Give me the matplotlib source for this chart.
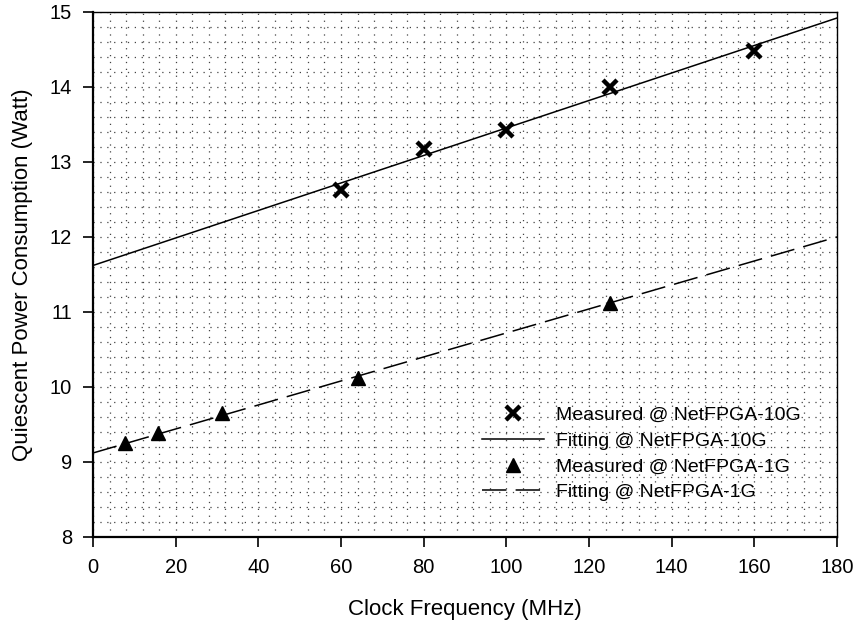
import numpy as np
import matplotlib
matplotlib.use('Agg')
import matplotlib.pyplot as plt
from matplotlib.ticker import MultipleLocator

plt.rcParams['font.family'] = ['Liberation Sans', 'DejaVu Sans']

# measured points
freq_10g = [60, 80, 100, 125, 160]
power_10g = [12.63, 13.17, 13.42, 14.00, 14.48]
freq_1g = [7.8, 15.6, 31.25, 64, 125]
power_1g = [9.25, 9.38, 9.65, 10.12, 11.12]

# linear fits (intercept, slope)
fit_10g = (11.62, 0.01833)
fit_1g = (9.12, 0.0160)
fit_x = [0, 180]

fig = plt.figure(figsize=(8.59, 6.29), dpi=100)
ax = fig.add_axes([0.1083, 0.1463, 0.8661, 0.8347])

xs = np.array(fit_x)
ax.plot(freq_10g, power_10g, 'x', color='black', ms=10, mew=3.2,
        label='Measured @ NetFPGA-10G', zorder=3)
ax.plot(xs, fit_10g[0] + fit_10g[1] * xs, '-', color='black', lw=1.1,
        label='Fitting @ NetFPGA-10G')
ax.plot(freq_1g, power_1g, '^', color='black', ms=10,
        label='Measured @ NetFPGA-1G', zorder=3)
ax.plot(xs, fit_1g[0] + fit_1g[1] * xs, color='black', lw=1.1,
        dashes=(16, 6), label='Fitting @ NetFPGA-1G')

ax.set_xlim(0, 180)
ax.set_ylim(8, 15)
ax.xaxis.set_major_locator(MultipleLocator(20))
ax.yaxis.set_major_locator(MultipleLocator(1))
ax.xaxis.set_minor_locator(MultipleLocator(4))
ax.yaxis.set_minor_locator(MultipleLocator(0.2))
ax.grid(which='both', color='#444444', ls=(0, (1, 4.5)), lw=0.9)
ax.tick_params(which='major', direction='out', length=7, width=1.2,
               labelsize=14.5, pad=8, top=False, right=False)
ax.tick_params(which='minor', length=0)
for s in ['left', 'bottom']:
    ax.spines[s].set_linewidth(1.6)
for s in ['top', 'right']:
    ax.spines[s].set_linewidth(1.0)

ax.set_xlabel('Clock Frequency (MHz)', fontsize=16, labelpad=16)
ax.set_ylabel('Quiescent Power Consumption (Watt)', fontsize=16, labelpad=12)

ax.legend(loc='lower right', bbox_to_anchor=(0.975, 0.035), frameon=False,
          fontsize=14, handlelength=3.2, labelspacing=0.42, handletextpad=0.6)

fig.savefig('out.png', dpi=100)
